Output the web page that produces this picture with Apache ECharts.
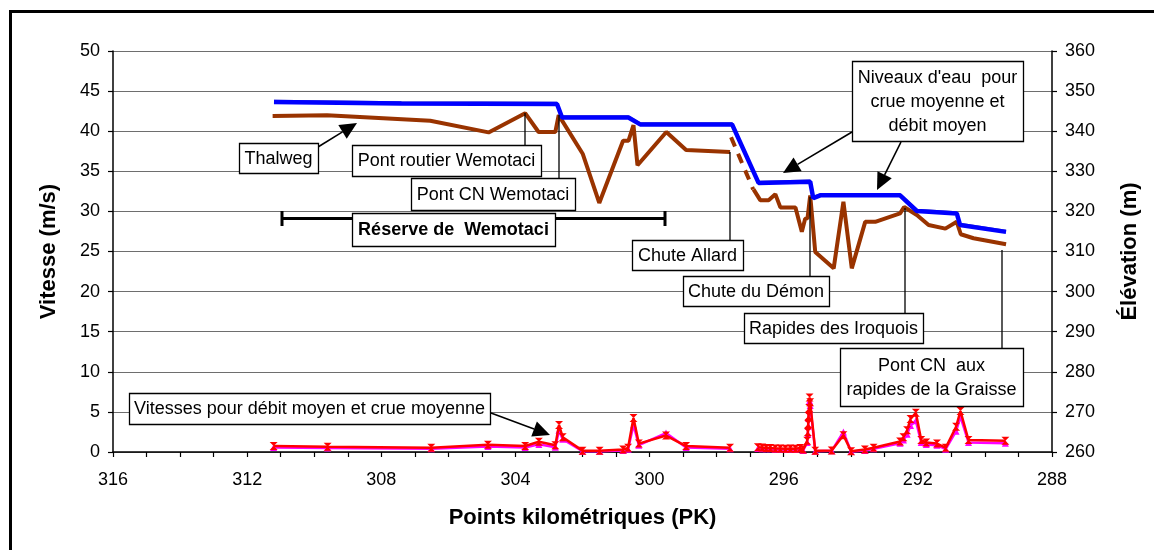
<!DOCTYPE html>
<html>
<head>
<meta charset="utf-8">
<script src="https://cdn.jsdelivr.net/npm/echarts@6/dist/echarts.min.js"></script>
<style>
html,body{margin:0;padding:0;background:#fff;}
#chart{width:1154px;height:550px;}
</style>
</head>
<body>
<div id="chart"></div>
<script>
// ---- Data ----
const xTicksInfo = { min: 288, max: 316, step: 4 };
const leftTicks = { min: 0, max: 50, step: 5 };
const rightTicks = { min: 260, max: 360, step: 10 };

// Water levels (elevation, m)
const levelPK     = [311.20, 307.40, 302.76, 302.61, 300.63, 300.28, 297.54, 296.75, 295.21, 295.12, 294.91, 292.53, 292.03, 290.84, 290.74, 289.37];
const levelMean   = [347.3,  346.9,  346.8,  343.4,  343.4,  341.7,  341.7,  327.1,  327.4,  323.3,  324.0,  324.0,  320.1,  319.5,  316.6,  314.9];
const levelFlood  = [347.7,  347.3,  347.2,  343.8,  343.8,  342.1,  342.1,  327.5,  327.8,  323.7,  324.4,  324.4,  320.5,  319.9,  317.0,  315.3];

// Thalweg (elevation, m)
const thalwegUpPK    = [311.24, 309.62, 306.54, 304.80, 303.71, 303.31, 302.81, 302.71, 301.99, 301.50, 300.79, 300.63, 300.48, 300.36, 299.50, 298.91, 297.60];
const thalwegUpElev  = [343.8,  344.0,  342.6,  339.7,  344.5,  339.8,  339.8,  344.0,  334.3,  322.1,  337.6,  337.6,  341.5,  331.5,  339.8,  335.3,  334.8];
const thalwegGapPK   = [297.57, 296.91];
const thalwegGapElev = [338.5,  325.5];
const thalwegDnPK    = [296.90, 296.70, 296.45, 296.25, 296.10, 295.65, 295.46, 295.36, 295.29, 295.21, 295.06, 294.51, 294.22, 293.97, 293.57, 293.27, 292.53, 292.41, 292.03, 291.68, 291.18, 290.84, 290.72, 290.34, 289.37];
const thalwegDnElev  = [325.5,  322.8,  322.8,  324.3,  321.0,  321.0,  314.9,  318.2,  318.3,  324.0,  309.9,  305.8,  322.4,  305.8,  317.4,  317.4,  319.5,  321.1,  319.1,  316.6,  315.7,  317.4,  314.3,  313.3,  311.8];

// Velocities (m/s)
const velPK    = [311.21, 309.60, 306.51, 304.82, 303.71, 303.30, 302.81, 302.70, 302.59, 302.00, 301.49, 300.79, 300.64, 300.48, 300.32, 299.51, 298.91, 297.60, 297.20, 296.77, 296.64, 296.52, 296.40, 296.25, 296.10, 295.95, 295.80, 295.65, 295.51, 295.42, 295.30, 295.28, 295.27, 295.26, 295.24, 295.23, 295.21, 295.06, 294.57, 294.22, 293.99, 293.58, 293.32, 292.53, 292.43, 292.32, 292.22, 292.06, 291.90, 291.75, 291.43, 291.17, 290.86, 290.73, 290.49, 289.39];
const velFlood = [0.75, 0.66, 0.54, 0.91, 0.75, 1.27, 0.83, 3.37, 1.84, 0.17, 0.17, 0.31, 0.52, 4.24, 1.05, 2.05, 0.74, 0.52, null, 0.60, 0.55, 0.50, 0.50, 0.45, 0.45, 0.40, 0.45, 0.40, 0.50, 0.30, 1.40, 2.50, 3.50, 4.50, 5.50, 6.80, 6.20, 0.17, 0.20, 2.10, 0.09, 0.31, 0.52, 1.31, 1.84, 2.71, 4.11, 4.90, 1.49, 1.18, 1.05, 0.52, 3.15, 5.11, 1.49, 1.40];
const velMean  = [0.55, 0.50, 0.40, 0.70, 0.55, 0.95, 0.60, 2.71, 1.60, 0.10, 0.10, 0.20, 0.35, 3.37, 0.85, 2.36, 0.55, 0.40, null, 0.45, 0.40, 0.40, 0.40, 0.35, 0.35, 0.30, 0.35, 0.30, 0.40, 0.20, 1.20, 2.20, 3.20, 4.20, 5.20, 6.40, 5.80, 0.10, 0.15, 2.50, 0.05, 0.20, 0.40, 1.10, 1.50, 2.20, 3.30, 3.90, 1.20, 0.95, 0.85, 0.35, 2.60, 4.40, 1.20, 1.10];

const FONT = '"Liberation Sans", Arial, sans-serif';

function pairs(xs, ys) { return xs.map((x, i) => [x, ys[i] == null ? '-' : ys[i]]); }

// ---- annotation helpers (layout only) ----
function box(x, y, w, h, text, bold) {
  return {
    type: 'group', z: 100,
    children: [
      { type: 'rect', shape: { x: x + 0.5, y: y + 0.5, width: w, height: h },
        style: { fill: '#fff', stroke: '#000', lineWidth: 1.3 }, z: 100 },
      { type: 'text', x: x + w / 2, y: y + h / 2 + 1, z: 101,
        style: { text: text, fill: '#000', font: (bold ? 'bold ' : '') + '18px ' + FONT,
                 align: 'center', verticalAlign: 'middle', lineHeight: 24 } }
    ]
  };
}
function seg(x1, y1, x2, y2, w) {
  return { type: 'line', z: 99, shape: { x1: x1, y1: y1, x2: x2, y2: y2 },
           style: { stroke: '#000', lineWidth: w || 1.3 } };
}
function arrow(x1, y1, x2, y2) {
  const dx = x2 - x1, dy = y2 - y1, L = Math.hypot(dx, dy);
  const ux = dx / L, uy = dy / L, nx = -uy, ny = ux;
  const hl = 17, hw = 8;
  const bx = x2 - ux * hl, by = y2 - uy * hl;
  return [
    seg(x1, y1, bx, by, 1.6),
    { type: 'polygon', z: 99, shape: { points: [[x2, y2], [bx + nx * hw, by + ny * hw], [bx - nx * hw, by - ny * hw]] },
      style: { fill: '#000' } }
  ];
}

const graphics = [].concat(
  [{ type: 'rect', z: 0, silent: true, shape: { x: 10.5, y: 11.5, width: 1200, height: 600 },
     style: { fill: 'none', stroke: '#000', lineWidth: 3 } }],
  // leader lines
  [seg(525, 113, 525, 145), seg(559, 115, 559, 178), seg(730, 152, 730, 240),
   seg(810, 197, 810, 276), seg(905, 208, 905, 313), seg(1002, 250, 1002, 348)],
  // reserve bar
  [seg(282, 218.5, 665, 218.5, 3), seg(282, 211, 282, 226, 3), seg(665, 211, 665, 226, 3)],
  arrow(318, 147, 357, 123),
  arrow(852, 132, 783, 173),
  arrow(901, 142, 877, 190),
  arrow(491, 413, 550, 435),
  [
    box(239, 143, 79, 30, 'Thalweg'),
    box(352, 145, 189, 31, 'Pont routier Wemotaci'),
    box(411, 178, 164, 32, 'Pont CN Wemotaci'),
    box(352, 213, 203, 33, 'Réserve de  Wemotaci', true),
    box(632, 240, 111, 30, 'Chute Allard'),
    box(683, 276, 146, 30, 'Chute du Démon'),
    box(744, 313, 179, 30, 'Rapides des Iroquois'),
    box(840, 348, 183, 58, 'Pont CN  aux\nrapides de la Graisse'),
    box(852, 61, 171, 80, "Niveaux d'eau  pour\ncrue moyenne et\ndébit moyen"),
    box(129, 393, 361, 31, 'Vitesses pour débit moyen et crue moyenne')
  ]
);

const chart = echarts.init(document.getElementById('chart'), null, { renderer: 'canvas' });
const axisLabelStyle = { color: '#000', fontSize: 18, fontFamily: FONT };
const nameStyle = { color: '#000', fontSize: 22, fontWeight: 'bold', fontFamily: FONT };

chart.setOption({
  animation: false,
  backgroundColor: '#fff',
  grid: { left: 113, right: 102, top: 51, bottom: 98 },
  xAxis: {
    type: 'value', min: xTicksInfo.min, max: xTicksInfo.max, interval: xTicksInfo.step, inverse: true,
    name: 'Points kilométriques (PK)', nameLocation: 'middle', nameGap: 55, nameTextStyle: nameStyle,
    axisLine: { lineStyle: { color: '#000', width: 1.5 } },
    axisTick: { show: true, length: 5, lineStyle: { color: '#000', width: 1.2 } },
    minorTick: { show: true, splitNumber: 4, length: 5, lineStyle: { color: '#000', width: 1.2 } },
    axisLabel: Object.assign({ margin: 19 }, axisLabelStyle),
    splitLine: { show: false }
  },
  yAxis: [
    {
      type: 'value', min: leftTicks.min, max: leftTicks.max, interval: leftTicks.step,
      name: 'Vitesse (m/s)', nameLocation: 'middle', nameGap: 53, nameRotate: 90, nameTextStyle: nameStyle,
      axisLine: { show: true, lineStyle: { color: '#000', width: 1.5 } },
      axisTick: { show: true, length: 5, lineStyle: { color: '#000', width: 1.2 } },
      axisLabel: Object.assign({ margin: 13 }, axisLabelStyle),
      splitLine: { show: true, lineStyle: { color: '#6e6e6e', width: 1.2 } }
    },
    {
      type: 'value', min: rightTicks.min, max: rightTicks.max, interval: rightTicks.step, position: 'right',
      name: 'Élévation (m)', nameLocation: 'middle', nameGap: 67, nameRotate: 90, nameTextStyle: nameStyle,
      axisLine: { show: true, lineStyle: { color: '#000', width: 1.5 } },
      axisTick: { show: true, length: 5, lineStyle: { color: '#000', width: 1.2 } },
      axisLabel: Object.assign({ margin: 13 }, axisLabelStyle),
      splitLine: { show: false }
    }
  ],
  series: [
    { name: 'Thalweg', type: 'line', yAxisIndex: 1, data: pairs(thalwegUpPK, thalwegUpElev),
      symbol: 'none', lineStyle: { color: '#993300', width: 4 }, z: 2 },
    { name: 'Thalweg (interpolé)', type: 'line', yAxisIndex: 1, data: pairs(thalwegGapPK, thalwegGapElev),
      symbol: 'none', lineStyle: { color: '#993300', width: 4, type: [10, 8] }, z: 2 },
    { name: 'Thalweg aval', type: 'line', yAxisIndex: 1, data: pairs(thalwegDnPK, thalwegDnElev),
      symbol: 'none', lineStyle: { color: '#993300', width: 4 }, z: 2 },
    { name: 'Niveau crue moyenne', type: 'line', yAxisIndex: 1, data: pairs(levelPK, levelFlood),
      symbol: 'none', lineStyle: { color: '#5a5aa8', width: 1.2 }, z: 3 },
    { name: 'Niveau débit moyen', type: 'line', yAxisIndex: 1, data: pairs(levelPK, levelMean),
      symbol: 'none', lineStyle: { color: '#0000ff', width: 4.5 }, z: 4 },
    { name: 'Vitesse débit moyen', type: 'line', yAxisIndex: 0, data: pairs(velPK, velMean),
      connectNulls: false, symbol: 'triangle', symbolSize: 7, showSymbol: true,
      itemStyle: { color: '#ff00ff' }, lineStyle: { color: '#ff00ff', width: 2.5 }, z: 5 },
    { name: 'Vitesse crue moyenne', type: 'line', yAxisIndex: 0, data: pairs(velPK, velFlood),
      connectNulls: false, symbol: 'path://M0,0 L10,0 L0,10 L10,10 Z', symbolSize: 8, showSymbol: true,
      itemStyle: { color: '#ff0000' }, lineStyle: { color: '#ff0000', width: 2.5 }, z: 6 }
  ],
  graphic: graphics
});
</script>
</body>
</html>
